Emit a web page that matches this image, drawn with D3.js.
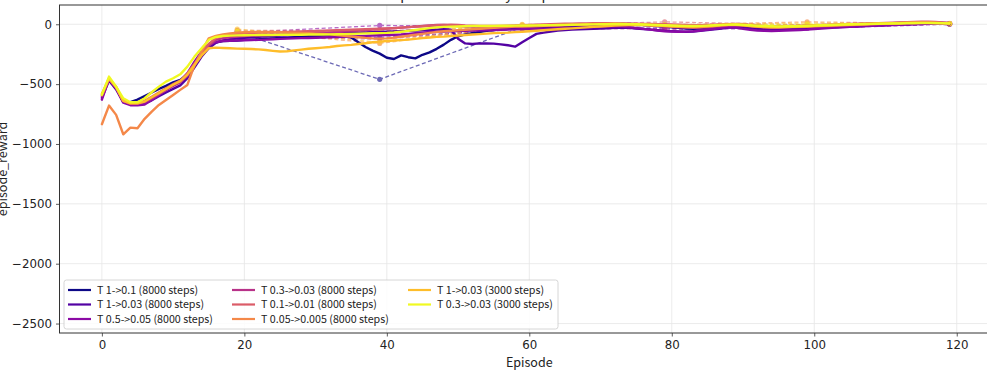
<!DOCTYPE html>
<html>
<head>
<meta charset="utf-8">
<script src="https://cdn.jsdelivr.net/npm/d3@7/dist/d3.min.js"></script>
<style>
  html, body { margin: 0; padding: 0; background: #fff; overflow: hidden; }
  svg { display: block; font-family: "Noto Sans CJK JP", "Noto Sans", sans-serif; }
</style>
</head>
<body>
<svg id="chart" width="987" height="372"></svg>
<script>
// ---- data ----
const seriesNames = [
  "T 1->0.1 (8000 steps)",
  "T 1->0.03 (8000 steps)",
  "T 0.5->0.05 (8000 steps)",
  "T 0.3->0.03 (8000 steps)",
  "T 0.1->0.01 (8000 steps)",
  "T 0.05->0.005 (8000 steps)",
  "T 1->0.03 (3000 steps)",
  "T 0.3->0.03 (3000 steps)"
];

// smoothed episode reward, episodes 0..119
const rewardT1_01 = [
  null,null,null,null,-650,-630,-600,-570,-540,-515,
  -485,-465,-420,-345,-260,-190,-150,-140,-138,-135,
  -130,-128,-125,-120,-118,-115,-112,-108,-104,-100,
  -98,-95,-92,-90,-92,-110,-150,-190,-220,-245,
  -280,-290,-260,-275,-285,-255,-235,-205,-170,-130,
  -100,-85,-75,-65,-55,-48,-42,-38,-35,-32,
  -30,-28,-25,-22,-20,-18,-15,-12,-10,-8,
  -5,-3,0,2,3,0,-5,-10,-15,-20,
  -25,-30,-35,-38,-35,-30,-25,-20,-15,-12,
  -20,-30,-35,-38,-40,-38,-35,-33,-30,-25,
  -20,-15,-12,-10,-8,-5,-3,0,2,5,
  8,10,12,14,15,16,17,15,12,8
];
const rewardT1_003 = [
  -615,-470,-545,-650,-665,-670,-660,-635,-600,-570,
  -540,-510,-450,-360,-270,-200,-155,-135,-125,-118,
  -112,-108,-105,-100,-98,-95,-92,-90,-88,-85,
  -83,-80,-78,-76,-74,-72,-70,-68,-66,-64,
  -62,-60,-58,-55,-52,-50,-48,-45,-42,-45,
  -120,-160,-165,-160,-160,-162,-168,-175,-187,-150,
  -114,-80,-70,-60,-52,-48,-45,-42,-40,-38,
  -35,-33,-30,-28,-30,-35,-40,-45,-50,-55,
  -58,-60,-62,-60,-55,-48,-42,-35,-28,-25,
  -30,-38,-45,-48,-50,-48,-45,-44,-42,-38,
  -34,-30,-28,-25,-22,-20,-18,-15,-12,-10,
  -8,-5,-2,0,2,4,6,5,3,0
];
const rewardT05_005 = [
  -630,-455,-535,-655,-676,-676,-670,-632,-590,-548,
  -507,-479,-410,-312,-228,-173,-148,-140,-138,-136,
  -134,-132,-130,-128,-125,-122,-120,-118,-116,-115,
  -113,-110,-108,-106,-104,-102,-100,-97,-94,-92,
  -90,-88,-85,-80,-75,-70,-65,-62,-60,-58,
  -56,-55,-53,-52,-50,-48,-46,-45,-43,-42,
  -40,-38,-36,-34,-32,-30,-28,-26,-25,-24,
  -22,-20,-18,-20,-25,-30,-38,-45,-52,-58,
  -60,-62,-61,-58,-52,-45,-38,-30,-25,-28,
  -38,-46,-52,-55,-56,-55,-52,-50,-48,-45,
  -40,-36,-32,-28,-25,-22,-18,-15,-12,-10,
  -8,-6,-4,-2,0,2,3,4,3,2
];
const rewardT03_003 = [
  -600,-460,-530,-640,-665,-665,-650,-620,-585,-550,
  -515,-485,-430,-345,-255,-180,-130,-115,-108,-102,
  -98,-95,-92,-90,-88,-85,-82,-80,-78,-76,
  -74,-72,-68,-64,-60,-56,-52,-48,-44,-40,
  -36,-32,-28,-24,-20,-15,-10,-5,-6,-10,
  -14,-18,-20,-22,-24,-25,-25,-24,-22,-20,
  -18,-16,-14,-12,-10,-8,-6,-4,-3,-2,
  0,2,3,2,0,-3,-6,-10,-14,-18,
  -22,-25,-28,-30,-28,-25,-20,-15,-10,-8,
  -12,-18,-24,-28,-30,-30,-28,-26,-24,-22,
  -20,-18,-15,-12,-10,-8,-5,-3,0,2,
  4,6,8,10,12,14,15,14,12,10
];
const rewardT01_001 = [
  -590,-455,-525,-640,-660,-660,-640,-605,-570,-535,
  -500,-470,-410,-330,-245,-165,-115,-95,-88,-82,
  -78,-75,-72,-70,-68,-66,-64,-62,-60,-58,
  -56,-54,-52,-50,-48,-46,-44,-42,-40,-38,
  -35,-32,-28,-24,-20,-16,-12,-8,-5,-4,
  -6,-10,-12,-14,-15,-15,-14,-12,-10,-8,
  -6,-4,-2,0,2,4,5,6,7,8,
  8,8,7,6,5,4,3,2,1,0,
  -2,-4,-6,-8,-8,-6,-4,-2,0,2,
  0,-5,-10,-14,-16,-16,-15,-14,-12,-10,
  -8,-6,-4,-2,0,2,4,6,8,10,
  12,14,16,18,20,21,22,20,16,12
];
const rewardT005_0005 = [
  -835,-679,-757,-919,-863,-868,-790,-729,-674,-632,
  -590,-548,-507,-340,-228,-117,-98,-84,-76,-70,
  -67,-65,-64,-64,-65,-66,-68,-70,-72,-75,
  -78,-80,-84,-90,-96,-102,-108,-114,-118,-120,
  -118,-112,-104,-96,-88,-80,-72,-64,-58,-54,
  -50,-46,-42,-38,-34,-30,-26,-23,-20,-18,
  -16,-14,-12,-10,-8,-6,-4,-2,0,2,
  3,4,4,3,2,0,-3,-6,-10,-14,
  -18,-22,-24,-25,-24,-20,-14,-8,-4,-2,
  -6,-12,-18,-22,-24,-24,-22,-20,-18,-15,
  -12,-10,-8,-6,-4,-2,0,2,4,6,
  8,10,12,13,14,15,15,13,10,6
];
const rewardT1_003_short = [
  -580,-450,-525,-640,-660,-660,-645,-610,-575,-540,
  -505,-475,-420,-340,-260,-200,-195,-198,-200,-203,
  -205,-207,-210,-215,-222,-228,-225,-218,-212,-205,
  -200,-195,-190,-182,-176,-172,-165,-158,-150,-145,
  -140,-136,-132,-128,-122,-116,-110,-105,-103,-98,
  -94,-90,-86,-82,-78,-74,-72,-70,-66,-62,
  -58,-54,-50,-46,-42,-38,-34,-30,-26,-22,
  -18,-14,-10,-8,-6,-5,-6,-8,-10,-12,
  -14,-16,-18,-18,-16,-14,-10,-6,-4,-4,
  -8,-14,-20,-24,-26,-26,-24,-22,-20,-18,
  -15,-12,-10,-8,-6,-4,-2,0,2,4,
  6,8,10,12,13,14,14,12,10,8
];
const rewardT03_003_short = [
  -590,-437,-521,-618,-652,-652,-618,-568,-521,-479,
  -451,-418,-354,-270,-200,-131,-106,-98,-95,-93,
  -92,-91,-90,-90,-89,-88,-88,-87,-87,-86,
  -86,-85,-84,-83,-82,-80,-78,-76,-75,-74,
  -72,-68,-62,-55,-48,-40,-32,-26,-22,-20,
  -18,-16,-15,-14,-14,-13,-12,-12,-11,-10,
  -10,-9,-8,-7,-6,-5,-4,-3,-2,-1,
  0,1,2,2,1,0,-2,-4,-6,-8,
  -10,-12,-13,-14,-13,-11,-8,-5,-3,-2,
  -4,-8,-12,-15,-17,-18,-17,-16,-14,-12,
  -10,-8,-6,-4,-2,0,1,2,3,4,
  5,6,7,8,9,10,10,9,8,6
];

const rewardSeries = [
  rewardT1_01, rewardT1_003, rewardT05_005, rewardT03_003,
  rewardT01_001, rewardT005_0005, rewardT1_003_short, rewardT03_003_short
];

// periodic evaluation runs
const evalEpisodes = [19, 39, 59, 79, 99, 119];
const evalSeries = [
  [-66, -460, -25, -10, -15, 5],
  [-70, -110, -40, -30, -20, 2],
  [-70, -10, -15, -40, -35, 0],
  [-100, -125, -35, -40, -20, 5],
  [-50, -55, -15, 20, -5, 5],
  [-55, -160, -5, -5, 20, 5],
  [-40, -150, 0, -10, 10, 8],
  [-60, -62, -15, -5, 0, 5]
];

const xTicks = [0, 20, 40, 60, 80, 100, 120];
const yTicks = [0, -500, -1000, -1500, -2000, -2500];

// ---- layout ----
const svg = d3.select("#chart");
const plot = { left: 59.5, right: 992, top: 5, bottom: 333 };

const x = d3.scaleLinear().domain([-5.95, 124.95]).range([plot.left, plot.right]);
const y = d3.scaleLinear().domain([-2579, 161]).range([plot.bottom, plot.top]);
const color = i => d3.interpolatePlasma(i / 7);

svg.append("defs").append("clipPath").attr("id", "plotClip")
  .append("rect")
  .attr("x", plot.left).attr("y", plot.top)
  .attr("width", plot.right - plot.left).attr("height", plot.bottom - plot.top);

// grid
const grid = svg.append("g").attr("stroke", "#e6e6e6").attr("stroke-width", 0.8);
xTicks.forEach(t => grid.append("line")
  .attr("x1", x(t)).attr("x2", x(t)).attr("y1", plot.top).attr("y2", plot.bottom));
yTicks.forEach(t => grid.append("line")
  .attr("x1", plot.left).attr("x2", plot.right).attr("y1", y(t)).attr("y2", y(t)));

const fmt = v => (v < 0 ? "\u2212" + Math.abs(v) : String(v));

// axes
const xAxis = svg.append("g")
  .attr("transform", `translate(0,${plot.bottom})`)
  .call(d3.axisBottom(x).tickValues(xTicks).tickFormat(fmt).tickSizeOuter(0).tickSize(3.5).tickPadding(4));
const yAxis = svg.append("g")
  .attr("transform", `translate(${plot.left},0)`)
  .call(d3.axisLeft(y).tickValues(yTicks).tickFormat(fmt).tickSizeOuter(0).tickSize(3.5).tickPadding(4));
[xAxis, yAxis].forEach(a => {
  a.select(".domain").remove();
  a.selectAll(".tick line").attr("stroke", "#333").attr("stroke-width", 0.8);
  a.selectAll(".tick text").attr("fill", "#222").attr("font-size", 11.8)
    .attr("font-family", "'DejaVu Sans', sans-serif");
});

// lines
const lineGen = d3.line()
  .defined(d => d.v != null)
  .x(d => x(d.e)).y(d => y(d.v));

const marks = svg.append("g").attr("clip-path", "url(#plotClip)");

// evaluation dashed lines
evalSeries.forEach((vals, i) => {
  const pts = vals.map((v, k) => ({ e: evalEpisodes[k], v }));
  const g = marks.append("g").attr("opacity", 0.6);
  g.append("path").datum(pts)
    .attr("d", lineGen)
    .attr("fill", "none")
    .attr("stroke", color(i))
    .attr("stroke-width", 1.3)
    .attr("stroke-dasharray", "4,2.5");
  g.selectAll("circle").data(pts).join("circle")
    .attr("cx", d => x(d.e)).attr("cy", d => y(d.v)).attr("r", 2.6)
    .attr("fill", color(i));
});

// smoothed reward curves
rewardSeries.forEach((vals, i) => {
  const pts = vals.map((v, e) => ({ e, v }));
  marks.append("path").datum(pts)
    .attr("d", lineGen)
    .attr("fill", "none")
    .attr("stroke", color(i))
    .attr("stroke-width", 2.4)
    .attr("stroke-linejoin", "round")
    .attr("stroke-linecap", "round");
});

// frame
svg.append("rect")
  .attr("x", plot.left).attr("y", plot.top)
  .attr("width", plot.right - plot.left).attr("height", plot.bottom - plot.top)
  .attr("fill", "none").attr("stroke", "#333").attr("stroke-width", 1);

// title (runs off the top edge)
svg.append("text")
  .attr("x", (plot.left + plot.right) / 2).attr("y", -1.5)
  .attr("text-anchor", "middle").attr("font-size", 14).attr("fill", "#222")
  .text("Episode reward by temperature schedule");

// axis labels
svg.append("text")
  .attr("x", x(60)).attr("y", 367)
  .attr("text-anchor", "middle").attr("font-size", 12.5).attr("fill", "#222")
  .text("Episode");
svg.append("text")
  .attr("transform", `translate(7,${(plot.top + plot.bottom) / 2}) rotate(-90)`)
  .attr("text-anchor", "middle").attr("font-size", 12.5).attr("fill", "#222")
  .text("episode_reward");

// legend
const legend = svg.append("g");
legend.append("rect")
  .attr("x", 64).attr("y", 280).attr("width", 494).attr("height", 49)
  .attr("rx", 2.5).attr("fill", "#fff").attr("fill-opacity", 0.85)
  .attr("stroke", "#cccccc").attr("stroke-width", 0.8);
const colX = [68, 232, 408];
const rowY = [290, 304.5, 319];
seriesNames.forEach((name, i) => {
  const c = Math.floor(i / 3), r = i % 3;
  const lx = colX[c], ly = rowY[r];
  legend.append("line")
    .attr("x1", lx).attr("x2", lx + 23).attr("y1", ly).attr("y2", ly)
    .attr("stroke", color(i)).attr("stroke-width", 2.2);
  legend.append("text")
    .attr("x", lx + 29).attr("y", ly).attr("dy", "0.35em")
    .attr("font-size", 10.7).attr("fill", "#222")
    .text(name);
});
</script>
</body>
</html>
